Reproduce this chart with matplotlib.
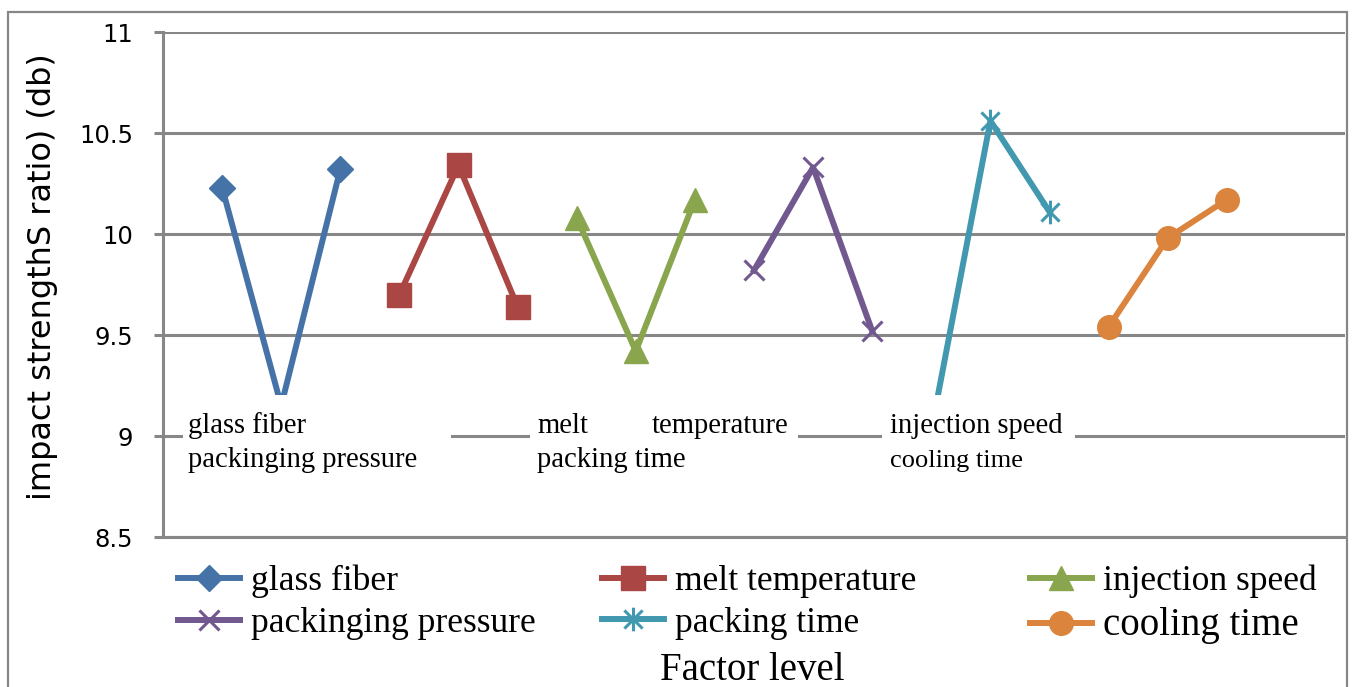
import matplotlib

matplotlib.use("Agg")
import matplotlib.pyplot as plt
import numpy as np
from matplotlib.patches import Rectangle
from matplotlib.path import Path

# Mean S/N ratio (db) at the three levels of each factor
factors = ["glass fiber", "melt temperature", "injection speed",
           "packinging pressure", "packing time", "cooling time"]
glass_fiber = [10.23, 9.15, 10.32]
melt_temperature = [9.70, 10.34, 9.64]
injection_speed = [10.08, 9.42, 10.17]
packinging_pressure = [9.82, 10.33, 9.52]
packing_time = [9.03, 10.56, 10.11]
cooling_time = [9.54, 9.98, 10.17]
series = [glass_fiber, melt_temperature, injection_speed,
          packinging_pressure, packing_time, cooling_time]

y_ticks = [8.5, 9, 9.5, 10, 10.5, 11]
y_ticklabels = ["8.5", "9", "9.5", "10", "10.5", "11"]

colors = ["#4572A7", "#AA4643", "#89A54E", "#71588F", "#4198AF", "#DB843D"]

# asterisk marker: an x with a vertical stroke through it
star = Path([(-1, -1), (1, 1), (-1, 1), (1, -1), (0, -1.3), (0, 1.3)],
            [Path.MOVETO, Path.LINETO, Path.MOVETO, Path.LINETO,
             Path.MOVETO, Path.LINETO])
markers = ["D", "s", "^", "x", star, "o"]
msizes = [13.5, 17.5, 17, 15, 17, 17]
medge = [1, 1, 1, 2.2, 2.2, 1]

W, H = 1352, 687
fig = plt.figure(figsize=(W / 100, H / 100), dpi=100)
ax = fig.add_axes([163 / W, 1 - 537 / H, (1345 - 163) / W, 505 / H])

grid_c = "#878787"
for i, vals in enumerate(series):
    x = np.arange(len(vals)) + 2 + 3 * i
    ax.plot(x, vals, color=colors[i], lw=4.3, marker=markers[i],
            ms=msizes[i], mew=medge[i], mec=colors[i], mfc=colors[i],
            label=factors[i], zorder=3, clip_on=False)

ax.set_xlim(1, 21)
ax.set_ylim(8.5, 11)
ax.set_yticks(y_ticks)
ax.set_yticklabels(y_ticklabels, fontsize=17.5, family="DejaVu Sans")
ax.set_xticks([])
ax.grid(axis="y", color=grid_c, lw=2.2, zorder=1)
for s in ["top", "right"]:
    ax.spines[s].set_visible(False)
for s in ["left", "bottom"]:
    ax.spines[s].set_color(grid_c)
    ax.spines[s].set_linewidth(2.2)
ax.tick_params(axis="y", length=6.5, width=2.2, color=grid_c, pad=15)
ax.set_ylabel("impact strengthS ratio) (db)", fontsize=23, family="DejaVu Sans")
ax.yaxis.set_label_coords(-0.089, 0.515)


def fx(px):
    return px / W


def fy(py):
    return 1 - py / H


# white text boxes that sit over the lower part of the plot
for x0, x1 in [(183, 451), (530, 798), (882, 1075)]:
    fig.add_artist(Rectangle((fx(x0), fy(485)), fx(x1) - fx(x0), fy(395) - fy(485),
                             transform=fig.transFigure, facecolor="white",
                             edgecolor="none", zorder=4))

serif = "Liberation Serif"
notes = [(188, 433, "glass fiber", 20.6), (188, 467, "packinging pressure", 20.6),
         (537, 433, "melt", 20.6), (652, 433, "temperature", 20.6),
         (537, 467, "packing time", 20.6), (890, 433, "injection speed", 20.6),
         (890, 467, "cooling time", 19)]
for px, py, txt, fs in notes:
    fig.text(fx(px), fy(py), txt, fontsize=fs, family=serif, va="baseline",
             ha="left", zorder=5)

# legend, one column at a time
handles, labels = ax.get_legend_handles_labels()
for col, px in enumerate([178, 602, 1030]):
    idx = [col, col + 3]
    leg = fig.legend([handles[j] for j in idx], [labels[j] for j in idx],
                     loc="upper left", bbox_to_anchor=(fx(px), fy(565)),
                     frameon=False, borderpad=0, borderaxespad=0,
                     handlelength=1.75, handletextpad=0.3, labelspacing=0.24,
                     prop={"family": serif, "size": 25.6})
    if col == 2:
        leg.get_texts()[1].set_fontsize(28)

fig.text(fx(752), fy(680), "Factor level", fontsize=28, family=serif,
         ha="center", va="baseline")

# outer chart border
fig.add_artist(Rectangle((fx(8), -0.1), fx(1347) - fx(8), fy(12) + 0.1,
                         transform=fig.transFigure, facecolor="none",
                         edgecolor=grid_c, lw=1.6, zorder=6))

fig.savefig("out.png", dpi=100)
